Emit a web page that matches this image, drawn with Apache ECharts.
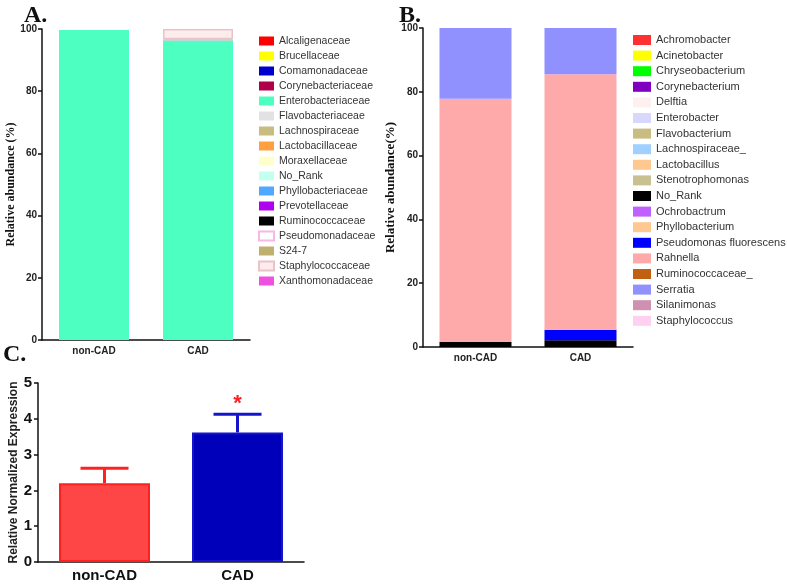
<!DOCTYPE html>
<html>
<head>
<meta charset="utf-8">
<script src="https://cdn.jsdelivr.net/npm/echarts@6/dist/echarts.min.js"></script>
<style>
  html, body { margin: 0; padding: 0; background: #fff; }
  #main { width: 787px; height: 586px; }
</style>
</head>
<body>
<div id="main"></div>
<script>
// ---- data ----
var groups = ["non-CAD", "CAD"];

// panel A: family level, % per group
var familyNames = [
  "Alcaligenaceae", "Brucellaceae", "Comamonadaceae", "Corynebacteriaceae",
  "Enterobacteriaceae", "Flavobacteriaceae", "Lachnospiraceae", "Lactobacillaceae",
  "Moraxellaceae", "No_Rank", "Phyllobacteriaceae", "Prevotellaceae",
  "Ruminococcaceae", "Pseudomonadaceae", "S24-7", "Staphylococcaceae", "Xanthomonadaceae"
];
var familyNonCAD = [0, 0, 0, 0, 99.7, 0, 0, 0, 0, 0, 0, 0, 0, 0, 0, 0, 0];
var familyCAD    = [0, 0, 0, 0, 96.4, 0, 0, 0, 0, 0, 0, 0, 0, 0.3, 0, 3.3, 0];

// panel B: genus level, % per group
var genusNames = [
  "Achromobacter", "Acinetobacter", "Chryseobacterium", "Corynebacterium",
  "Delftia", "Enterobacter", "Flavobacterium", "Lachnospiraceae_",
  "Lactobacillus", "Stenotrophomonas", "No_Rank", "Ochrobactrum",
  "Phyllobacterium", "Pseudomonas fluorescens", "Rahnella", "Ruminococcaceae_",
  "Serratia", "Silanimonas", "Staphylococcus"
];
var genusNonCAD = [0, 0, 0, 0, 0, 0, 0, 0, 0, 0, 1.6, 0, 0, 0, 76.2, 0, 22.2, 0, 0];
var genusCAD    = [0, 0, 0, 0, 0, 0, 0, 0, 0, 0, 2.1, 0, 0, 3.3, 80.1, 0, 14.5, 0, 0];

// panel C: relative normalized expression
var exprMean = [2.2, 3.62];
var exprErr  = [0.42, 0.51];
var exprSig  = ["", "*"];

// ---- styles ----
var familyColors = [
  "#ff0000", "#ffff00", "#0000cc", "#b0004a", "#4dffc0", "#e2e2e2", "#c8bc80",
  "#ffa040", "#ffffcc", "#c4fff0", "#50a8ff", "#b000f0", "#000000", "#ffffff",
  "#c0b070", "#fdecec", "#f050e0"
];
var familyBorders = { "Pseudomonadaceae": "#f7b8e4", "Staphylococcaceae": "#eac2c8" };
var genusColors = [
  "#ff3030", "#ffff00", "#00ff00", "#8000c0", "#fff0f0", "#d8d8ff", "#c8bc80",
  "#a0d0ff", "#ffc890", "#c8c090", "#000000", "#c060ff", "#ffc890", "#0000ff",
  "#ffaaaa", "#c06010", "#9090ff", "#d090b0", "#ffd0f0"
];
var exprColors  = ["#ff4646", "#0000bb"];
var exprBorders = ["#ff2020", "#1414cc"];

var sans = "Liberation Sans";
var serif = "Liberation Serif";

function nz(v) { return v === 0 ? null : v; }

var series = [];
familyNames.forEach(function (name, i) {
  var b = familyBorders[name];
  series.push({
    name: name, type: "bar", stack: "A", xAxisIndex: 0, yAxisIndex: 0,
    barWidth: 70,
    itemStyle: { color: familyColors[i], borderColor: b || familyColors[i], borderWidth: b ? 1.5 : 0 },
    data: [nz(familyNonCAD[i]), nz(familyCAD[i])]
  });
});
genusNames.forEach(function (name, i) {
  series.push({
    name: name, type: "bar", stack: "B", xAxisIndex: 1, yAxisIndex: 1,
    barWidth: 72,
    itemStyle: { color: genusColors[i] },
    data: [nz(genusNonCAD[i]), nz(genusCAD[i])]
  });
});
series.push({
  type: "bar", xAxisIndex: 2, yAxisIndex: 2, barWidth: 91,
  data: exprMean.map(function (v, i) {
    return { value: v, itemStyle: { color: exprColors[i], borderColor: exprBorders[i], borderWidth: 2 } };
  })
});
series.push({
  type: "custom", xAxisIndex: 2, yAxisIndex: 2, z: 5,
  data: exprMean.map(function (v, i) { return [i, v, exprErr[i]]; }),
  renderItem: function (params, api) {
    var i = api.value(0);
    var base = api.coord([i, api.value(1)]);
    var top = api.coord([i, api.value(1) + api.value(2)]);
    var c = exprBorders[i];
    var st = { stroke: c, lineWidth: 3 };
    var kids = [
      { type: "line", shape: { x1: base[0], y1: base[1], x2: top[0], y2: top[1] }, style: st },
      { type: "line", shape: { x1: top[0] - 24, y1: top[1], x2: top[0] + 24, y2: top[1] }, style: st }
    ];
    if (exprSig[i]) {
      kids.push({ type: "text", x: top[0], y: top[1] - 10,
        style: { text: exprSig[i], fill: "#ff2020", font: "bold 22px " + sans, align: "center", verticalAlign: "middle" } });
    }
    return { type: "group", children: kids };
  }
});

var legendA = familyNames.map(function (n) { return { name: n }; });
var legendB = genusNames.map(function (n) {
  return n === "No_Rank" ? { name: n, itemStyle: { color: "#000000" } } : { name: n };
});

function valueAxis(idx, opts) {
  return Object.assign({
    type: "value", gridIndex: idx,
    axisLine: { show: true, lineStyle: { color: "#111", width: 1.5 } },
    axisTick: { show: true, length: 4, lineStyle: { color: "#111", width: 1.5 } },
    splitLine: { show: false },
    nameLocation: "middle"
  }, opts);
}
function catAxis(idx, opts) {
  return Object.assign({
    type: "category", gridIndex: idx, data: groups,
    axisLine: { lineStyle: { color: "#111", width: 1.5 } },
    axisTick: { alignWithLabel: true, length: 4, lineStyle: { color: "#111", width: 1.5 } }
  }, opts);
}

var option = {
  animation: false,
  backgroundColor: "#fff",
  grid: [
    { left: 42, top: 29, width: 208, height: 311 },
    { left: 423, top: 28, width: 210, height: 319 },
    { left: 38, top: 383, width: 266, height: 179 }
  ],
  xAxis: [
    catAxis(0, { axisLabel: { color: "#222", fontFamily: sans, fontWeight: "bold", fontSize: 10, margin: 6 } }),
    catAxis(1, { axisLabel: { color: "#222", fontFamily: sans, fontWeight: "bold", fontSize: 10, margin: 6 } }),
    catAxis(2, { axisLabel: { color: "#111", fontFamily: sans, fontWeight: "bold", fontSize: 15, margin: 6 } })
  ],
  yAxis: [
    valueAxis(0, { min: 0, max: 100, interval: 20, name: "Relative abundance (%)", nameGap: 24,
      nameTextStyle: { fontFamily: serif, fontWeight: "bold", fontSize: 12, color: "#111" },
      axisLabel: { color: "#222", fontFamily: sans, fontWeight: "bold", fontSize: 10, margin: 5 } }),
    valueAxis(1, { min: 0, max: 100, interval: 20, name: "Relative abundance(%)", nameGap: 26,
      nameTextStyle: { fontFamily: serif, fontWeight: "bold", fontSize: 13, color: "#111" },
      axisLabel: { color: "#222", fontFamily: sans, fontWeight: "bold", fontSize: 10, margin: 5 } }),
    valueAxis(2, { min: 0, max: 5, interval: 1, name: "Relative Normalized Expression", nameGap: 18,
      nameTextStyle: { fontFamily: sans, fontWeight: "bold", fontSize: 12, color: "#222" },
      axisLabel: { color: "#111", fontFamily: sans, fontWeight: "bold", fontSize: 15, margin: 6 } })
  ],
  legend: [
    { orient: "vertical", left: 253, top: 30, selectedMode: false, icon: "rect",
      itemWidth: 15, itemHeight: 9, itemGap: 3, data: legendA,
      textStyle: { fontFamily: sans, fontSize: 10.5, color: "#333", lineHeight: 12 } },
    { orient: "vertical", left: 628, top: 29, selectedMode: false, icon: "rect",
      itemWidth: 18, itemHeight: 10, itemGap: 3.6, data: legendB,
      textStyle: { fontFamily: sans, fontSize: 11, color: "#333", lineHeight: 12 } }
  ],
  graphic: [
    { type: "text", left: 24, top: 4, style: { text: "A.", font: "bold 24px " + serif, fill: "#111" } },
    { type: "text", left: 399, top: 4, style: { text: "B.", font: "bold 24px " + serif, fill: "#111" } },
    { type: "text", left: 3, top: 343, style: { text: "C.", font: "bold 24px " + serif, fill: "#111" } }
  ],
  series: series
};

var chart = echarts.init(document.getElementById("main"));
chart.setOption(option);
</script>
</body>
</html>
